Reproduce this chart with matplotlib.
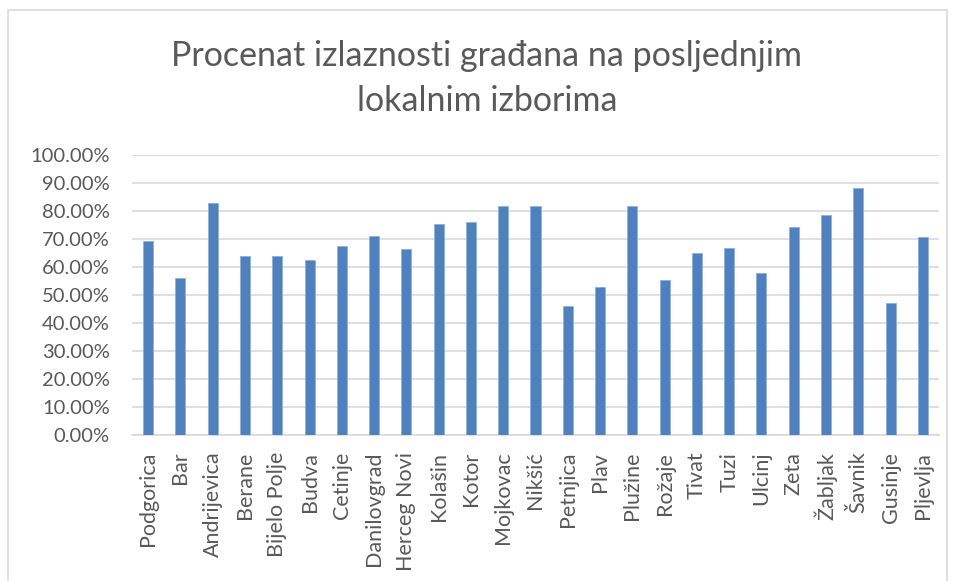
import matplotlib.pyplot as plt
import numpy as np
from matplotlib.patches import Rectangle
from matplotlib.ticker import PercentFormatter

opstine = ['Podgorica', 'Bar', 'Andrijevica', 'Berane', 'Bijelo Polje', 'Budva',
           'Cetinje', 'Danilovgrad', 'Herceg Novi', 'Kolašin', 'Kotor', 'Mojkovac',
           'Nikšić', 'Petnjica', 'Plav', 'Plužine', 'Rožaje', 'Tivat', 'Tuzi',
           'Ulcinj', 'Zeta', 'Žabljak', 'Šavnik', 'Gusinje', 'Pljevlja']
izlaznost = [69.4, 56.1, 82.9, 63.9, 63.8, 62.4, 67.4, 71.0, 66.5, 75.4, 76.2, 81.7,
             81.9, 46.0, 52.9, 81.9, 55.5, 64.9, 66.7, 57.9, 74.3, 78.5, 88.3, 47.0, 70.7]
y_ticks = np.arange(0, 101, 10)

plt.rcParams['font.family'] = ['Lato', 'DejaVu Sans']

fig = plt.figure(figsize=(9.54, 5.81), dpi=100)
fig.patches.append(Rectangle((8 / 954, -0.01), 939 / 954, 1 - 10 / 581 + 0.01,
                             transform=fig.transFigure, fill=False,
                             edgecolor='#d9d9d9', linewidth=1.2))

ax = fig.add_axes([132 / 954, 146 / 581, 807 / 954, 280 / 581])
x = np.arange(len(opstine))
ax.bar(x, izlaznost, width=0.31, color='#4f81bd', edgecolor='#8eb0dc', linewidth=0.6, zorder=3)

ax.set_xlim(-0.5, len(opstine) - 0.5)
ax.set_ylim(0, 100)
ax.set_yticks(y_ticks)
ax.yaxis.set_major_formatter(PercentFormatter(decimals=2))
ax.set_xticks(x)
ax.set_xticklabels(opstine, rotation=90)
ax.grid(axis='y', color='#d9d9d9', linewidth=1.2, zorder=0)
for s in ['top', 'right', 'left']:
    ax.spines[s].set_visible(False)
ax.spines['bottom'].set_color('#d9d9d9')
ax.spines['bottom'].set_linewidth(1.2)
ax.tick_params(axis='both', length=0, labelcolor='#595959')
ax.tick_params(axis='x', pad=12, labelsize=15.5)
ax.tick_params(axis='y', pad=16, labelsize=14.5)

fig.text(487 / 954, 1 - 56 / 581, 'Procenat izlaznosti građana na posljednjim', ha='center', va='center',
         fontsize=24.5, color='#595959')
fig.text(487 / 954, 1 - 101 / 581, 'lokalnim izborima', ha='center', va='center',
         fontsize=24.5, color='#595959')

fig.savefig('out.png', dpi=100)
